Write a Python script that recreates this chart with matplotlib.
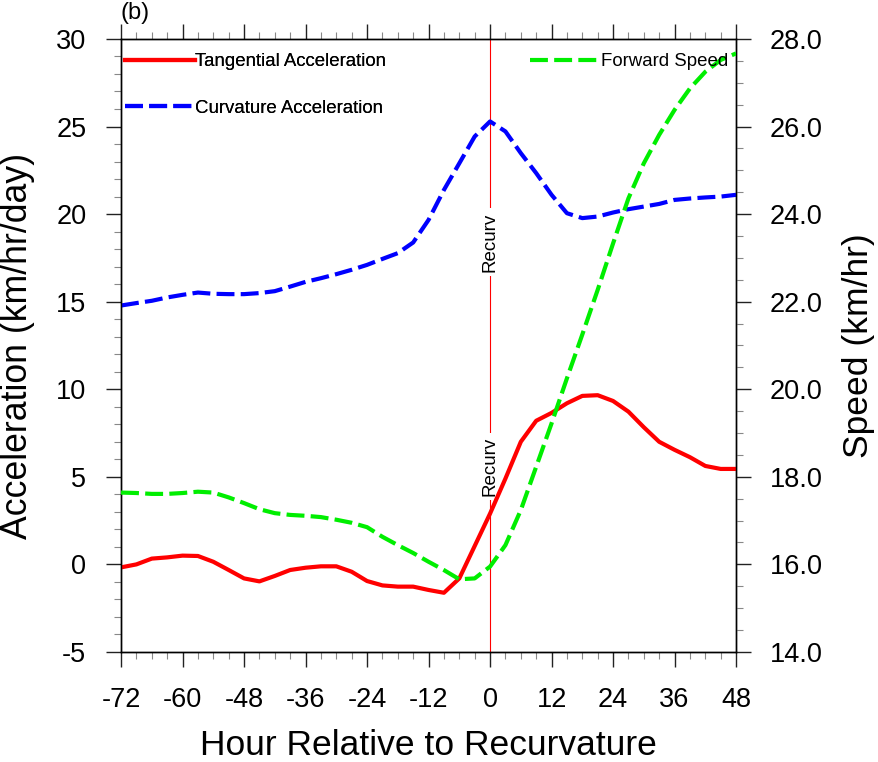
import numpy as np
import matplotlib
matplotlib.use('Agg')
import matplotlib.pyplot as plt
from matplotlib.ticker import MultipleLocator, FormatStrFormatter
from matplotlib.lines import Line2D

plt.rcParams['font.family'] = ['Liberation Sans', 'DejaVu Sans']
plt.rcParams['axes.unicode_minus'] = False

hours = [-72, -69, -66, -63, -60, -57, -54, -51, -48, -45, -42, -39, -36, -33,
         -30, -27, -24, -21, -18, -15, -12, -9, -6, -3, 0, 3, 6, 9, 12, 15, 18,
         21, 24, 27, 30, 33, 36, 39, 42, 45, 48]

tangential = [-0.17, 0.0, 0.33, 0.4, 0.5, 0.48, 0.15, -0.32, -0.8, -0.97, -0.66,
              -0.32, -0.19, -0.11, -0.11, -0.42, -0.95, -1.2, -1.27, -1.27, -1.46,
              -1.62, -0.8, 1.05, 2.9, 4.9, 7.0, 8.2, 8.65, 9.2, 9.62, 9.66, 9.33,
              8.72, 7.83, 7.0, 6.54, 6.12, 5.62, 5.45, 5.45]

curvature = [14.78, 14.92, 15.05, 15.24, 15.39, 15.52, 15.45, 15.43, 15.43, 15.49,
             15.6, 15.86, 16.13, 16.34, 16.57, 16.82, 17.1, 17.44, 17.77, 18.38,
             19.67, 21.38, 22.9, 24.43, 25.29, 24.72, 23.48, 22.34, 21.1, 20.05,
             19.77, 19.86, 20.09, 20.28, 20.43, 20.58, 20.81, 20.89, 20.95, 21.0, 21.1]

fwd_speed = [17.64, 17.63, 17.61, 17.61, 17.63, 17.66, 17.64, 17.53, 17.4, 17.26,
             17.17, 17.13, 17.11, 17.08, 17.02, 16.95, 16.85, 16.63, 16.44, 16.26,
             16.06, 15.87, 15.66, 15.68, 15.95, 16.44, 17.24, 18.23, 19.22, 20.25,
             21.25, 22.27, 23.33, 24.36, 25.16, 25.81, 26.38, 26.87, 27.25, 27.52, 27.67]

xticks = [-72, -60, -48, -36, -24, -12, 0, 12, 24, 36, 48]

fig = plt.figure(figsize=(8.79, 7.62), dpi=100)
ax = fig.add_axes([0.1377, 0.1444, 0.6997, 0.8045])
ax2 = ax.twinx()

dash = (0, (4.3, 1.5))

# recurvature marker
ax.axvline(0, color='red', lw=0.8, zorder=1)
for yv in [18.4, 5.6]:
    ax.text(0, yv, 'Recurv', rotation=90, ha='center', va='center', fontsize=13.5,
            bbox=dict(facecolor='white', edgecolor='none', pad=3), zorder=2)

ax.plot(hours, tangential, color='red', lw=3, zorder=3)
ax.plot(hours, curvature, color='blue', lw=3, ls=dash, zorder=3)
ax2.plot(hours, fwd_speed, color='#00ee00', lw=3, ls=dash, zorder=3)

ax.set_xlim(-72, 48)
ax.set_ylim(-5, 30)
ax2.set_ylim(14, 28)

ax.set_xticks(xticks)
ax.set_xticklabels([str(h) for h in xticks])
ax.xaxis.set_minor_locator(MultipleLocator(3))
ax.yaxis.set_major_locator(MultipleLocator(5))
ax.yaxis.set_minor_locator(MultipleLocator(1))
ax2.yaxis.set_major_locator(MultipleLocator(2))
ax2.yaxis.set_minor_locator(MultipleLocator(0.5))
ax2.yaxis.set_major_formatter(FormatStrFormatter('%.1f'))

ax.tick_params(axis='x', which='both', top=True, direction='out')
ax.tick_params(axis='y', which='both', right=False, direction='out')
ax2.tick_params(axis='y', which='both', direction='out')
for a in (ax, ax2):
    a.tick_params(which='major', length=11, width=1.0, labelsize=19.5, color='#222222')
    a.tick_params(which='minor', length=5, width=0.8, color='#888888')
    for s in a.spines.values():
        s.set_linewidth(1.0)
ax.tick_params(axis='x', which='major', pad=14)
ax.tick_params(axis='y', which='major', pad=14)
ax2.tick_params(axis='y', which='major', pad=13)

ax.set_xlabel('Hour Relative to Recurvature', fontsize=25.5, labelpad=12)
ax.set_ylabel('Acceleration (km/hr/day)', fontsize=25.7, labelpad=15)
ax2.set_ylabel('Speed (km/hr)', fontsize=25.5, labelpad=14)

fig.text(0.137, 0.997, '(b)', fontsize=17, ha='left', va='top')

h1 = [Line2D([], [], color='red', lw=3),
      Line2D([], [], color='blue', lw=3, ls=dash)]
leg1 = ax.legend(h1, ['Tangential Acceleration', 'Curvature Acceleration'],
                 loc='upper left', bbox_to_anchor=(0.006, 0.977), frameon=False,
                 fontsize=13.4, handlelength=3.8, handletextpad=0.0,
                 labelspacing=1.6, borderpad=0, borderaxespad=0)
ax.add_artist(leg1)
h2 = [Line2D([], [], color='#00ee00', lw=3, ls=dash)]
ax2.legend(h2, ['Forward Speed'], loc='upper right', bbox_to_anchor=(0.987, 0.977),
           frameon=False, fontsize=13.4, handlelength=3.8, handletextpad=0.0,
           borderpad=0, borderaxespad=0)

fig.savefig('out.png', dpi=100)
